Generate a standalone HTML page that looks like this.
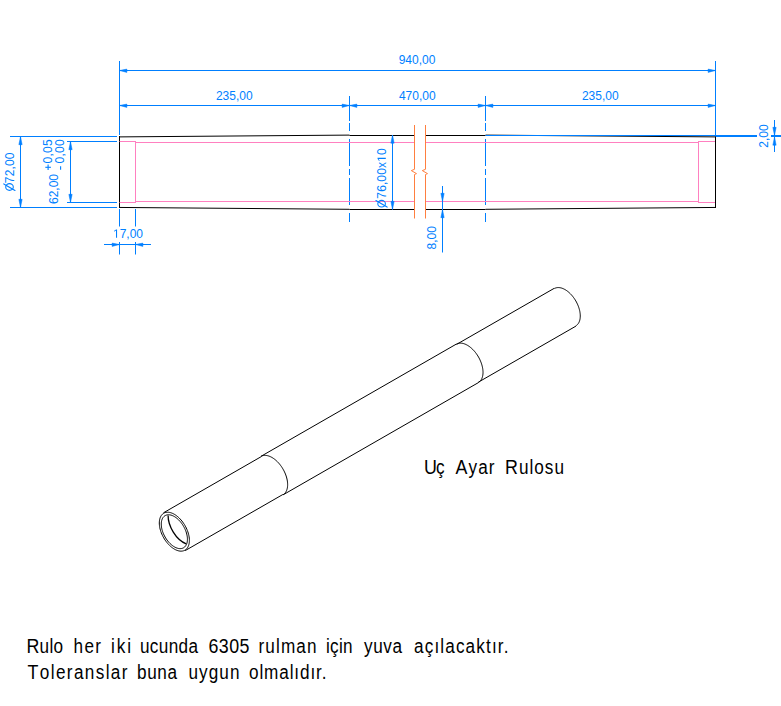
<!DOCTYPE html>
<html><head><meta charset="utf-8"><style>
html,body{margin:0;padding:0;background:#fff;}
body{width:781px;height:706px;overflow:hidden;position:relative;}
svg{position:absolute;left:0;top:0;}
text{font-family:"Liberation Sans",sans-serif;}
.t{position:absolute;font-family:"Liberation Sans",sans-serif;color:#000;white-space:nowrap;}
</style></head><body>
<svg width="781" height="706" viewBox="0 0 781 706">
<line x1="119.5" y1="61" x2="119.5" y2="135" stroke="#007fff" stroke-width="1"/>
<line x1="715.5" y1="61" x2="715.5" y2="135.5" stroke="#007fff" stroke-width="1"/>
<line x1="119.5" y1="70.5" x2="715.5" y2="70.5" stroke="#007fff" stroke-width="1"/>
<path d="M119.5,70.5 L126.90,69.10 L126.90,72.40 Z" fill="#007fff" stroke="#007fff" stroke-width="0.5" stroke-linejoin="bevel"/>
<path d="M715.5,70.5 L708.10,72.40 L708.10,69.10 Z" fill="#007fff" stroke="#007fff" stroke-width="0.5" stroke-linejoin="bevel"/>
<text x="417" y="64" text-anchor="middle" font-size="12" fill="#007fff">940,00</text>
<line x1="119.5" y1="105.5" x2="715.5" y2="105.5" stroke="#007fff" stroke-width="1"/>
<path d="M119.5,105.5 L126.90,104.10 L126.90,107.40 Z" fill="#007fff" stroke="#007fff" stroke-width="0.5" stroke-linejoin="bevel"/>
<path d="M349.5,105.5 L342.10,107.40 L342.10,104.10 Z" fill="#007fff" stroke="#007fff" stroke-width="0.5" stroke-linejoin="bevel"/>
<path d="M349.5,105.5 L356.90,104.10 L356.90,107.40 Z" fill="#007fff" stroke="#007fff" stroke-width="0.5" stroke-linejoin="bevel"/>
<path d="M485.5,105.5 L478.10,107.40 L478.10,104.10 Z" fill="#007fff" stroke="#007fff" stroke-width="0.5" stroke-linejoin="bevel"/>
<path d="M485.5,105.5 L492.90,104.10 L492.90,107.40 Z" fill="#007fff" stroke="#007fff" stroke-width="0.5" stroke-linejoin="bevel"/>
<path d="M715.5,105.5 L708.10,107.40 L708.10,104.10 Z" fill="#007fff" stroke="#007fff" stroke-width="0.5" stroke-linejoin="bevel"/>
<text x="234.3" y="99.7" text-anchor="middle" font-size="12" fill="#007fff">235,00</text>
<text x="417.3" y="99.7" text-anchor="middle" font-size="12" fill="#007fff">470,00</text>
<text x="600.3" y="99.7" text-anchor="middle" font-size="12" fill="#007fff">235,00</text>
<line x1="349.5" y1="96" x2="349.5" y2="121" stroke="#007fff" stroke-width="1"/>
<line x1="349.5" y1="123" x2="349.5" y2="131" stroke="#007fff" stroke-width="1"/>
<line x1="349.5" y1="139" x2="349.5" y2="166" stroke="#007fff" stroke-width="1"/>
<line x1="349.5" y1="169" x2="349.5" y2="175" stroke="#007fff" stroke-width="1"/>
<line x1="349.5" y1="178" x2="349.5" y2="205" stroke="#007fff" stroke-width="1"/>
<line x1="349.5" y1="213" x2="349.5" y2="222" stroke="#007fff" stroke-width="1"/>
<line x1="485.5" y1="96" x2="485.5" y2="121" stroke="#007fff" stroke-width="1"/>
<line x1="485.5" y1="123" x2="485.5" y2="131" stroke="#007fff" stroke-width="1"/>
<line x1="485.5" y1="139" x2="485.5" y2="166" stroke="#007fff" stroke-width="1"/>
<line x1="485.5" y1="169" x2="485.5" y2="175" stroke="#007fff" stroke-width="1"/>
<line x1="485.5" y1="178" x2="485.5" y2="205" stroke="#007fff" stroke-width="1"/>
<line x1="485.5" y1="213" x2="485.5" y2="222" stroke="#007fff" stroke-width="1"/>
<line x1="119" y1="136.9" x2="349.5" y2="135.1" stroke="#000" stroke-width="1"/>
<line x1="119" y1="207.45" x2="349.5" y2="209.3" stroke="#000" stroke-width="1"/>
<line x1="485.5" y1="135.1" x2="716" y2="136.9" stroke="#000" stroke-width="1"/>
<line x1="485.5" y1="209.3" x2="716" y2="207.45" stroke="#000" stroke-width="1"/>
<line x1="349.5" y1="135.5" x2="414.5" y2="135.5" stroke="#000" stroke-width="1"/>
<line x1="349.5" y1="209.5" x2="414.5" y2="209.5" stroke="#000" stroke-width="1"/>
<line x1="425.5" y1="135.5" x2="485.5" y2="135.5" stroke="#000" stroke-width="1"/>
<line x1="425.5" y1="209.5" x2="485.5" y2="209.5" stroke="#000" stroke-width="1"/>
<line x1="119.5" y1="136" x2="119.5" y2="208" stroke="#000" stroke-width="1"/>
<line x1="715.5" y1="136" x2="715.5" y2="208" stroke="#000" stroke-width="1"/>
<line x1="119.5" y1="141.5" x2="135.5" y2="141.5" stroke="#ff80c0" stroke-width="1"/>
<line x1="119.5" y1="202.5" x2="135.5" y2="202.5" stroke="#ff80c0" stroke-width="1"/>
<line x1="135.5" y1="141" x2="135.5" y2="203" stroke="#ff80c0" stroke-width="1"/>
<line x1="135.5" y1="142.5" x2="414.5" y2="142.5" stroke="#ff80c0" stroke-width="1"/>
<line x1="135.5" y1="201.5" x2="414.5" y2="201.5" stroke="#ff80c0" stroke-width="1"/>
<line x1="425.5" y1="142.5" x2="698.5" y2="142.5" stroke="#ff80c0" stroke-width="1"/>
<line x1="425.5" y1="201.5" x2="698.5" y2="201.5" stroke="#ff80c0" stroke-width="1"/>
<line x1="698.5" y1="141" x2="698.5" y2="203" stroke="#ff80c0" stroke-width="1"/>
<line x1="698.5" y1="141.5" x2="715" y2="141.5" stroke="#ff80c0" stroke-width="1"/>
<line x1="698.5" y1="202.5" x2="715" y2="202.5" stroke="#ff80c0" stroke-width="1"/>
<path d="M414.5,125 V169.3 L411.3,170.6 L416.5,173.6 L414.5,174.5 V218.5" stroke="#ff7f3f" stroke-width="1" fill="none" />
<path d="M425.5,125 V169.3 L422.3,170.6 L427.5,173.6 L425.5,174.5 V218.5" stroke="#ff7f3f" stroke-width="1" fill="none" />
<line x1="10" y1="136.5" x2="117" y2="136.5" stroke="#007fff" stroke-width="1"/>
<line x1="10" y1="207.5" x2="117" y2="207.5" stroke="#007fff" stroke-width="1"/>
<line x1="20.5" y1="136.5" x2="20.5" y2="207.5" stroke="#007fff" stroke-width="1"/>
<path d="M20.5,136.5 L22.15,144.70 L18.85,144.70 Z" fill="#007fff" stroke="#007fff" stroke-width="0.5" stroke-linejoin="bevel"/>
<path d="M20.5,207.5 L18.85,199.30 L22.15,199.30 Z" fill="#007fff" stroke="#007fff" stroke-width="0.5" stroke-linejoin="bevel"/>
<g transform="translate(13.6,152.4) rotate(-90)"><text x="-30.780" y="0" font-size="12" fill="#007fff">7</text><text x="-23.939" y="0" font-size="12" fill="#007fff">2</text><text x="-17.099" y="0" font-size="12" fill="#007fff">,</text><text x="-13.681" y="0" font-size="12" fill="#007fff">0</text><text x="-6.841" y="0" font-size="12" fill="#007fff">0</text></g>
<ellipse cx="9.5" cy="187" rx="3.8" ry="3.35" fill="none" stroke="#007fff" stroke-width="1.1"/>
<line x1="3.8" y1="183.9" x2="15.0" y2="190.4" stroke="#007fff" stroke-width="1.1" stroke-linecap="round"/>
<line x1="67" y1="141.5" x2="117" y2="141.5" stroke="#007fff" stroke-width="1"/>
<line x1="67" y1="202.5" x2="117" y2="202.5" stroke="#007fff" stroke-width="1"/>
<line x1="70.5" y1="141.5" x2="70.5" y2="202.5" stroke="#007fff" stroke-width="1"/>
<path d="M70.5,141.5 L72.15,149.70 L68.85,149.70 Z" fill="#007fff" stroke="#007fff" stroke-width="0.5" stroke-linejoin="bevel"/>
<path d="M70.5,202.5 L68.85,194.30 L72.15,194.30 Z" fill="#007fff" stroke="#007fff" stroke-width="0.5" stroke-linejoin="bevel"/>
<text x="0" y="0" transform="translate(58.0,204.0) rotate(-90)" text-anchor="start" font-size="12" fill="#007fff">62,00</text>
<text transform="translate(51.8,163.5) rotate(-90)" font-size="12" fill="#007fff" textLength="24.1" lengthAdjust="spacing">0,05</text>
<line x1="45.3" y1="167.3" x2="50.9" y2="167.3" stroke="#007fff" stroke-width="1.1"/>
<line x1="48.1" y1="164.5" x2="48.1" y2="170.1" stroke="#007fff" stroke-width="1.1"/>
<text transform="translate(63.9,163.5) rotate(-90)" font-size="12" fill="#007fff" textLength="24.1" lengthAdjust="spacing">0,00</text>
<line x1="60.6" y1="166.2" x2="60.6" y2="169.8" stroke="#007fff" stroke-width="1.1"/>
<line x1="119.5" y1="209" x2="119.5" y2="226.5" stroke="#007fff" stroke-width="1"/>
<line x1="119.5" y1="242" x2="119.5" y2="254.5" stroke="#007fff" stroke-width="1"/>
<line x1="135.5" y1="209" x2="135.5" y2="226.5" stroke="#007fff" stroke-width="1"/>
<line x1="135.5" y1="242" x2="135.5" y2="254.5" stroke="#007fff" stroke-width="1"/>
<line x1="104" y1="244.5" x2="151" y2="244.5" stroke="#007fff" stroke-width="1"/>
<path d="M119.5,244.5 L112.10,246.40 L112.10,243.10 Z" fill="#007fff" stroke="#007fff" stroke-width="0.5" stroke-linejoin="bevel"/>
<path d="M135.5,244.5 L142.90,243.10 L142.90,246.40 Z" fill="#007fff" stroke="#007fff" stroke-width="0.5" stroke-linejoin="bevel"/>
<g transform="translate(128,237.7)"><path transform="translate(-15.015,0) scale(0.005859,-0.005859)" d="M515,0 V1237 L197,1010 V1180 L530,1409 H696 V0 Z" fill="#007fff"/><text x="-8.341" y="0" font-size="12" fill="#007fff">7,00</text></g>
<line x1="485.5" y1="135.5" x2="757" y2="135.5" stroke="#007fff" stroke-width="1"/>
<line x1="715.5" y1="136.5" x2="757" y2="136.5" stroke="#007fff" stroke-width="1"/>
<line x1="771" y1="135.5" x2="781" y2="135.5" stroke="#007fff" stroke-width="1"/>
<line x1="771" y1="136.5" x2="781" y2="136.5" stroke="#007fff" stroke-width="1"/>
<line x1="774.5" y1="120" x2="774.5" y2="152" stroke="#007fff" stroke-width="1"/>
<path d="M774.5,135.5 L772.85,127.30 L776.15,127.30 Z" fill="#007fff" stroke="#007fff" stroke-width="0.5" stroke-linejoin="bevel"/>
<path d="M774.5,137 L776.15,145.20 L772.85,145.20 Z" fill="#007fff" stroke="#007fff" stroke-width="0.5" stroke-linejoin="bevel"/>
<text x="0" y="0" transform="translate(768,136) rotate(-90)" text-anchor="middle" font-size="12" fill="#007fff">2,00</text>
<line x1="392.5" y1="135" x2="392.5" y2="209.5" stroke="#007fff" stroke-width="1"/>
<path d="M392.5,135 L394.15,143.20 L390.85,143.20 Z" fill="#007fff" stroke="#007fff" stroke-width="0.5" stroke-linejoin="bevel"/>
<path d="M392.5,209.5 L390.85,201.30 L394.15,201.30 Z" fill="#007fff" stroke="#007fff" stroke-width="0.5" stroke-linejoin="bevel"/>
<g transform="translate(385.8,148.3) rotate(-90)"><text x="-50.364" y="0" font-size="12" fill="#007fff">7</text><text x="-43.557" y="0" font-size="12" fill="#007fff">6</text><text x="-36.750" y="0" font-size="12" fill="#007fff">,</text><text x="-33.349" y="0" font-size="12" fill="#007fff">0</text><text x="-26.542" y="0" font-size="12" fill="#007fff">0</text><text x="-19.735" y="0" font-size="12" fill="#007fff">x</text><path transform="translate(-13.615,0) scale(0.005859,-0.005859)" d="M515,0 V1237 L197,1010 V1180 L530,1409 H696 V0 Z" fill="#007fff"/><text x="-6.807" y="0" font-size="12" fill="#007fff">0</text></g>
<ellipse cx="381.6" cy="203.7" rx="3.8" ry="3.35" fill="none" stroke="#007fff" stroke-width="1.1"/>
<line x1="375.90000000000003" y1="200.6" x2="387.1" y2="207.1" stroke="#007fff" stroke-width="1.1" stroke-linecap="round"/>
<line x1="442.5" y1="186" x2="442.5" y2="252.5" stroke="#007fff" stroke-width="1"/>
<path d="M442.5,201.5 L440.85,193.30 L444.15,193.30 Z" fill="#007fff" stroke="#007fff" stroke-width="0.5" stroke-linejoin="bevel"/>
<path d="M442.5,209.5 L444.15,217.70 L440.85,217.70 Z" fill="#007fff" stroke="#007fff" stroke-width="0.5" stroke-linejoin="bevel"/>
<text x="0" y="0" transform="translate(436.2,237.8) rotate(-90)" text-anchor="middle" font-size="12" fill="#007fff">8,00</text>
<path d="M163.49,512.80 L261.18,456.67" stroke="#000" stroke-width="1.0" fill="none" />
<path d="M185.21,550.60 L282.90,494.48" stroke="#000" stroke-width="1.0" fill="none" />
<path d="M260.98,456.33 L456.35,344.08" stroke="#000" stroke-width="1.0" fill="none" />
<path d="M283.10,494.82 L478.47,382.57" stroke="#000" stroke-width="1.0" fill="none" />
<path d="M456.55,344.42 L554.24,288.30" stroke="#000" stroke-width="1.0" fill="none" />
<path d="M478.27,382.23 L575.96,326.10" stroke="#000" stroke-width="1.0" fill="none" />
<path d="M575.81,325.84 L576.33,325.52 L576.81,325.15 L577.27,324.73 L577.70,324.28 L578.10,323.78 L578.47,323.25 L578.81,322.67 L579.11,322.06 L579.38,321.41 L579.62,320.73 L579.82,320.01 L579.98,319.27 L580.11,318.49 L580.20,317.69 L580.26,316.86 L580.28,316.01 L580.26,315.14 L580.21,314.25 L580.12,313.34 L579.99,312.42 L579.83,311.48 L579.64,310.54 L579.40,309.58 L579.14,308.62 L578.84,307.66 L578.50,306.70 L578.14,305.73 L577.74,304.78 L577.31,303.82 L576.85,302.88 L576.37,301.94 L575.86,301.02 L575.32,300.11 L574.75,299.22 L574.17,298.35 L573.56,297.50 L572.93,296.68 L572.28,295.87 L571.62,295.10 L570.94,294.36 L570.24,293.64 L569.54,292.96 L568.82,292.32 L568.09,291.70 L567.36,291.13 L566.62,290.60 L565.88,290.10 L565.13,289.65 L564.39,289.24 L563.64,288.87 L562.90,288.54 L562.17,288.27 L561.44,288.03 L560.72,287.85 L560.02,287.71 L559.32,287.61 L558.64,287.57 L557.97,287.57 L557.32,287.61 L556.69,287.71 L556.08,287.85 L555.50,288.04 L554.93,288.28 L554.39,288.56" stroke="#000" stroke-width="1.0" fill="none" />
<path d="M283.05,494.74 L283.58,494.40 L284.08,494.02 L284.55,493.60 L284.99,493.13 L285.40,492.62 L285.78,492.07 L286.13,491.48 L286.44,490.85 L286.72,490.18 L286.96,489.48 L287.16,488.75 L287.33,487.98 L287.47,487.18 L287.56,486.36 L287.62,485.51 L287.64,484.63 L287.62,483.74 L287.57,482.82 L287.48,481.89 L287.35,480.94 L287.18,479.98 L286.98,479.01 L286.74,478.03 L286.47,477.04 L286.16,476.05 L285.81,475.06 L285.44,474.07 L285.03,473.08 L284.59,472.10 L284.12,471.13 L283.62,470.17 L283.09,469.22 L282.54,468.29 L281.96,467.37 L281.36,466.48 L280.73,465.61 L280.09,464.76 L279.42,463.93 L278.74,463.14 L278.04,462.37 L277.33,461.64 L276.60,460.94 L275.86,460.27 L275.11,459.65 L274.36,459.06 L273.60,458.51 L272.84,458.00 L272.07,457.53 L271.31,457.11 L270.54,456.73 L269.78,456.40 L269.03,456.11 L268.28,455.87 L267.54,455.68 L266.81,455.54 L266.10,455.44 L265.40,455.39 L264.71,455.39 L264.04,455.44 L263.40,455.54 L262.77,455.69 L262.16,455.88 L261.58,456.12 L261.03,456.41" stroke="#000" stroke-width="1.0" fill="none" />
<path d="M478.42,382.49 L478.95,382.15 L479.45,381.77 L479.93,381.35 L480.37,380.88 L480.78,380.37 L481.16,379.82 L481.50,379.23 L481.82,378.60 L482.09,377.93 L482.33,377.23 L482.54,376.50 L482.71,375.73 L482.84,374.93 L482.94,374.11 L483.00,373.26 L483.02,372.38 L483.00,371.49 L482.94,370.57 L482.85,369.64 L482.72,368.69 L482.56,367.73 L482.35,366.76 L482.11,365.78 L481.84,364.79 L481.53,363.80 L481.19,362.81 L480.81,361.82 L480.40,360.83 L479.97,359.85 L479.50,358.88 L479.00,357.92 L478.47,356.97 L477.92,356.04 L477.34,355.12 L476.73,354.23 L476.11,353.36 L475.46,352.51 L474.80,351.68 L474.11,350.89 L473.41,350.12 L472.70,349.39 L471.97,348.69 L471.24,348.02 L470.49,347.40 L469.73,346.81 L468.98,346.26 L468.21,345.75 L467.45,345.28 L466.68,344.86 L465.92,344.48 L465.16,344.15 L464.40,343.86 L463.65,343.62 L462.92,343.43 L462.19,343.29 L461.47,343.19 L460.77,343.14 L460.09,343.14 L459.42,343.19 L458.77,343.29 L458.14,343.44 L457.54,343.63 L456.96,343.87 L456.40,344.16" stroke="#000" stroke-width="1.0" fill="none" />
<path d="M184.96,550.17 L185.64,549.73 L186.26,549.21 L186.84,548.62 L187.36,547.95 L187.82,547.22 L188.23,546.42 L188.58,545.56 L188.87,544.63 L189.09,543.65 L189.26,542.63 L189.35,541.55 L189.39,540.43 L189.36,539.27 L189.26,538.09 L189.11,536.87 L188.88,535.63 L188.60,534.38 L188.26,533.11 L187.85,531.84 L187.39,530.57 L186.87,529.30 L186.30,528.04 L185.68,526.80 L185.01,525.58 L184.29,524.38 L183.53,523.22 L182.73,522.09 L181.90,521.01 L181.03,519.97 L180.13,518.98 L179.21,518.04 L178.27,517.16 L177.32,516.35 L176.34,515.60 L175.37,514.92 L174.38,514.31 L173.40,513.78 L172.42,513.32 L171.45,512.94 L170.49,512.64 L169.55,512.43 L168.62,512.29 L167.73,512.24 L166.86,512.28 L166.02,512.39 L165.22,512.59 L164.46,512.87 L163.74,513.23 L163.06,513.67 L162.44,514.19 L161.86,514.78 L161.34,515.45 L160.88,516.18 L160.47,516.98 L160.12,517.84 L159.83,518.77 L159.61,519.75 L159.44,520.77 L159.35,521.85 L159.31,522.97 L159.34,524.13 L159.44,525.31 L159.59,526.53 L159.82,527.77 L160.10,529.02 L160.44,530.29 L160.85,531.56 L161.31,532.83 L161.83,534.10 L162.40,535.36 L163.02,536.60 L163.69,537.82 L164.41,539.02 L165.17,540.18 L165.97,541.31 L166.80,542.39 L167.67,543.43 L168.57,544.42 L169.49,545.36 L170.43,546.24 L171.38,547.05 L172.36,547.80 L173.33,548.48 L174.32,549.09 L175.30,549.62 L176.28,550.08 L177.25,550.46 L178.21,550.76 L179.15,550.97 L180.08,551.11 L180.97,551.16 L181.84,551.12 L182.68,551.01 L183.48,550.81 L184.24,550.53 L184.96,550.17 Z" stroke="#000" stroke-width="1.0" fill="none" />
<path d="M183.58,547.77 L184.17,547.39 L184.71,546.94 L185.21,546.42 L185.67,545.84 L186.07,545.20 L186.43,544.51 L186.73,543.75 L186.98,542.95 L187.18,542.10 L187.32,541.20 L187.40,540.27 L187.43,539.30 L187.41,538.29 L187.33,537.26 L187.19,536.20 L186.99,535.12 L186.75,534.03 L186.45,532.93 L186.10,531.82 L185.69,530.71 L185.24,529.61 L184.75,528.52 L184.21,527.44 L183.62,526.37 L183.00,525.33 L182.34,524.32 L181.64,523.34 L180.92,522.40 L180.16,521.49 L179.38,520.63 L178.58,519.82 L177.76,519.05 L176.93,518.34 L176.09,517.69 L175.23,517.10 L174.38,516.57 L173.52,516.11 L172.67,515.71 L171.83,515.38 L170.99,515.12 L170.17,514.93 L169.37,514.82 L168.59,514.77 L167.83,514.80 L167.10,514.90 L166.41,515.07 L165.74,515.32 L165.12,515.63 L164.53,516.01 L163.99,516.46 L163.49,516.98 L163.03,517.56 L162.63,518.20 L162.27,518.89 L161.97,519.65 L161.72,520.45 L161.52,521.30 L161.38,522.20 L161.30,523.13 L161.27,524.10 L161.29,525.11 L161.37,526.14 L161.51,527.20 L161.71,528.28 L161.95,529.37 L162.25,530.47 L162.60,531.58 L163.01,532.69 L163.46,533.79 L163.95,534.88 L164.49,535.96 L165.08,537.03 L165.70,538.07 L166.36,539.08 L167.06,540.06 L167.78,541.00 L168.54,541.91 L169.32,542.77 L170.12,543.58 L170.94,544.35 L171.77,545.06 L172.61,545.71 L173.47,546.30 L174.32,546.83 L175.18,547.29 L176.03,547.69 L176.87,548.02 L177.71,548.28 L178.53,548.47 L179.33,548.58 L180.11,548.63 L180.87,548.60 L181.60,548.50 L182.29,548.33 L182.96,548.08 L183.58,547.77 Z" stroke="#000" stroke-width="1.0" fill="none" />
<path d="M168.1,515.6 C168,526 176,540 186.2,543.9" stroke="#000" stroke-width="1.3" fill="none" />
<text transform="translate(26.50,652.7) scale(0.85,1)" textLength="42.94" lengthAdjust="spacing" fill="#000"><tspan font-size="21">R</tspan><tspan font-size="20.2">ulo</tspan></text>
<text transform="translate(73.50,652.7) scale(0.85,1)" textLength="32.35" lengthAdjust="spacing" fill="#000"><tspan font-size="20.2">her</tspan></text>
<text transform="translate(111.00,652.7) scale(0.85,1)" textLength="23.53" lengthAdjust="spacing" fill="#000"><tspan font-size="20.2">iki</tspan></text>
<text transform="translate(140.00,652.7) scale(0.85,1)" textLength="68.24" lengthAdjust="spacing" fill="#000"><tspan font-size="20.2">ucunda</tspan></text>
<text transform="translate(208.50,652.7) scale(0.85,1)" textLength="48.24" lengthAdjust="spacing" fill="#000"><tspan font-size="21">6305</tspan></text>
<text transform="translate(258.50,652.7) scale(0.85,1)" textLength="68.24" lengthAdjust="spacing" fill="#000"><tspan font-size="20.2">rulman</tspan></text>
<text transform="translate(326.00,652.7) scale(0.85,1)" textLength="31.18" lengthAdjust="spacing" fill="#000"><tspan font-size="20.2">için</tspan></text>
<text transform="translate(364.00,652.7) scale(0.85,1)" textLength="44.71" lengthAdjust="spacing" fill="#000"><tspan font-size="20.2">yuva</tspan></text>
<text transform="translate(414.00,652.7) scale(0.85,1)" textLength="111.18" lengthAdjust="spacing" fill="#000"><tspan font-size="20.2">açılacaktır.</tspan></text>
<text transform="translate(27.50,678.7) scale(0.85,1)" textLength="117.65" lengthAdjust="spacing" fill="#000"><tspan font-size="21">T</tspan><tspan font-size="20.2">oleranslar</tspan></text>
<text transform="translate(137.00,678.7) scale(0.85,1)" textLength="47.06" lengthAdjust="spacing" fill="#000"><tspan font-size="20.2">buna</tspan></text>
<text transform="translate(188.50,678.7) scale(0.85,1)" textLength="60.00" lengthAdjust="spacing" fill="#000"><tspan font-size="20.2">uygun</tspan></text>
<text transform="translate(249.00,678.7) scale(0.85,1)" textLength="91.18" lengthAdjust="spacing" fill="#000"><tspan font-size="20.2">olmalıdır.</tspan></text>
<text transform="translate(424.00,473.7) scale(0.85,1)" textLength="24.12" lengthAdjust="spacing" fill="#000"><tspan font-size="21">U</tspan><tspan font-size="20.2">ç</tspan></text>
<text transform="translate(455.50,473.7) scale(0.85,1)" textLength="45.88" lengthAdjust="spacing" fill="#000"><tspan font-size="21">A</tspan><tspan font-size="20.2">yar</tspan></text>
<text transform="translate(505.00,473.7) scale(0.85,1)" textLength="69.41" lengthAdjust="spacing" fill="#000"><tspan font-size="21">R</tspan><tspan font-size="20.2">ulosu</tspan></text>
</svg>
</body></html>
